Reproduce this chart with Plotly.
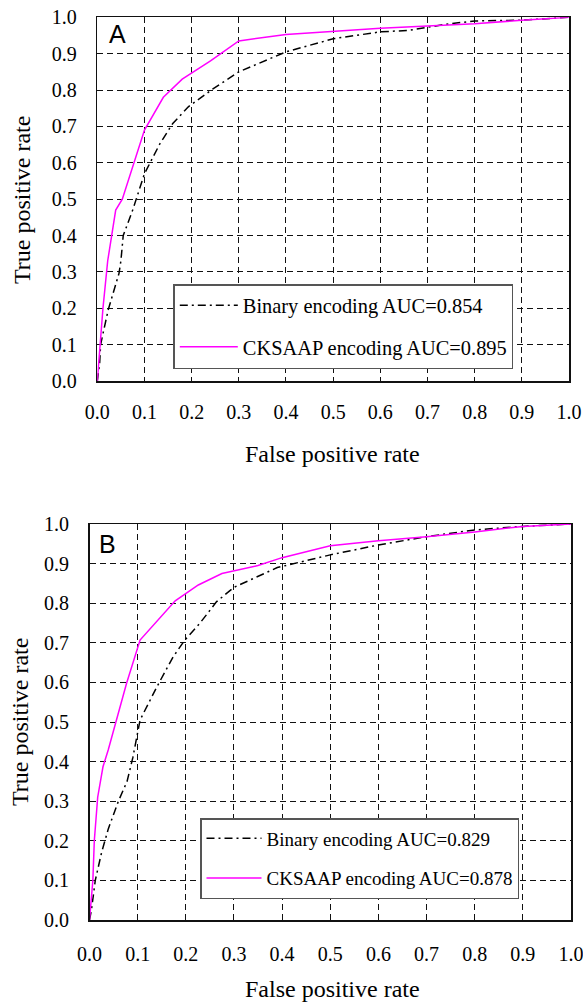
import plotly.graph_objects as go

W, H = 583, 1003

# ---------------- data ----------------
a_binary_fpr = [0, 0.005, 0.007, 0.023, 0.046, 0.05, 0.055, 0.075, 0.1, 0.133, 0.16, 0.193, 0.246, 0.3, 0.4, 0.5, 0.6, 0.66, 0.74, 0.8, 0.9, 1.0]
a_binary_tpr = [0, 0.05, 0.10, 0.195, 0.296, 0.33, 0.40, 0.47, 0.57, 0.653, 0.708, 0.754, 0.804, 0.85, 0.905, 0.941, 0.96, 0.964, 0.981, 0.99, 0.992, 1.0]

a_cksaap_fpr = [0, 0.003, 0.006, 0.012, 0.022, 0.031, 0.039, 0.053, 0.075, 0.1, 0.14, 0.18, 0.24, 0.3, 0.4, 0.5, 0.6, 0.7, 0.8, 0.9, 1.0]
a_cksaap_tpr = [0, 0.05, 0.10, 0.20, 0.33, 0.41, 0.47, 0.50, 0.59, 0.69, 0.78, 0.83, 0.88, 0.935, 0.953, 0.962, 0.97, 0.976, 0.982, 0.992, 1.0]

b_binary_fpr = [0, 0.004, 0.012, 0.025, 0.039, 0.06, 0.078, 0.09, 0.105, 0.14, 0.174, 0.198, 0.229, 0.264, 0.3, 0.39, 0.5, 0.6, 0.7, 0.8, 0.9, 1.0]
b_binary_tpr = [0, 0.025, 0.10, 0.17, 0.23, 0.30, 0.35, 0.41, 0.505, 0.589, 0.665, 0.707, 0.749, 0.804, 0.84, 0.89, 0.922, 0.947, 0.968, 0.985, 0.994, 1.0]

b_cksaap_fpr = [0, 0.004, 0.007, 0.010, 0.017, 0.028, 0.039, 0.056, 0.077, 0.105, 0.14, 0.178, 0.226, 0.275, 0.35, 0.4, 0.5, 0.6, 0.7, 0.8, 0.9, 1.0]
b_cksaap_tpr = [0, 0.05, 0.10, 0.20, 0.31, 0.387, 0.43, 0.505, 0.598, 0.707, 0.755, 0.806, 0.846, 0.875, 0.895, 0.915, 0.945, 0.958, 0.968, 0.98, 0.994, 1.0]

a_names = ["Binary encoding AUC=0.854", "CKSAAP encoding AUC=0.895"]
b_names = ["Binary encoding AUC=0.829", "CKSAAP encoding AUC=0.878"]
tick_vals = [i / 10 for i in range(11)]
tick_text = ["%.1f" % v for v in tick_vals]

# ---------------- style ----------------
SERIF = "Liberation Serif"
SANS = "Liberation Sans"
BIN_STYLE = dict(color="black", width=1.5, dash="8px,4px,2px,4px")
CKS_STYLE = dict(color="#FF00FF", width=1.5)


def px(x):
    return x / W


def py(y):
    return 1 - y / H


fig = go.Figure()

fig.add_trace(go.Scatter(x=a_binary_fpr, y=a_binary_tpr, mode="lines", name=a_names[0],
                         line=BIN_STYLE, xaxis="x", yaxis="y", legend="legend",
                         legendgroup="a1"))
fig.add_trace(go.Scatter(x=a_cksaap_fpr, y=a_cksaap_tpr, mode="lines", name=a_names[1],
                         line=CKS_STYLE, xaxis="x", yaxis="y", legend="legend",
                         legendgroup="a2"))
fig.add_trace(go.Scatter(x=b_binary_fpr, y=b_binary_tpr, mode="lines", name=b_names[0],
                         line=BIN_STYLE, xaxis="x2", yaxis="y2", legend="legend2",
                         legendgroup="b1"))
fig.add_trace(go.Scatter(x=b_cksaap_fpr, y=b_cksaap_tpr, mode="lines", name=b_names[1],
                         line=CKS_STYLE, xaxis="x2", yaxis="y2", legend="legend2",
                         legendgroup="b2"))

axis_common = dict(
    range=[0, 1], tickmode="array", tickvals=tick_vals, ticktext=tick_text,
    showgrid=True, gridcolor="#111111", gridwidth=1, griddash="6px,4px",
    showline=True, linecolor="#111111", linewidth=1.5, mirror=True,
    zeroline=False, ticks="", tickfont=dict(family=SERIF, size=20, color="black"),
    fixedrange=True, automargin=False, ticklabeloverflow="allow",
)

fig.update_layout(
    template="none",
    width=W, height=H, autosize=False,
    margin=dict(l=0, r=0, t=0, b=0, pad=0),
    paper_bgcolor="white", plot_bgcolor="white",
    xaxis=dict(domain=[px(97.3), px(569)], anchor="y", ticklabelstandoff=12, **axis_common),
    yaxis=dict(domain=[py(381), py(17.3)], anchor="x", ticklabelstandoff=15, **axis_common),
    xaxis2=dict(domain=[px(89.5), px(571)], anchor="y2", ticklabelstandoff=15, **axis_common),
    yaxis2=dict(domain=[py(920), py(524)], anchor="x2", ticklabelstandoff=15, **axis_common),
    legend=dict(x=px(173.3), y=py(284), xanchor="left", yanchor="top",
                bgcolor="white", bordercolor="#555555", borderwidth=1.5,
                font=dict(family=SERIF, size=20.4, color="black"),
                traceorder="grouped", tracegroupgap=12, itemwidth=58),
    legend2=dict(x=px(200), y=py(818), xanchor="left", yanchor="top",
                 bgcolor="white", bordercolor="#555555", borderwidth=1.5,
                 font=dict(family=SERIF, size=19, color="black"),
                 traceorder="grouped", tracegroupgap=12, itemwidth=55),
    showlegend=True,
    hovermode=False,
)

annotations = [
    dict(text="A", x=px(117), y=py(34), font=dict(family=SANS, size=25, color="black")),
    dict(text="B", x=px(107.5), y=py(544), font=dict(family=SANS, size=25, color="black")),
    dict(text="False positive rate", x=px(332), y=py(454), font=dict(family=SERIF, size=24, color="black")),
    dict(text="False positive rate", x=px(332), y=py(989), font=dict(family=SERIF, size=24, color="black")),
    dict(text="True positive rate", x=px(22), y=py(200), textangle=-90, font=dict(family=SERIF, size=24, color="black")),
    dict(text="True positive rate", x=px(20), y=py(722), textangle=-90, font=dict(family=SERIF, size=24, color="black")),
]
for a in annotations:
    a.update(xref="paper", yref="paper", showarrow=False, xanchor="center", yanchor="middle")
fig.update_layout(annotations=annotations)

# remove the page's default body margin so the figure fills the window exactly
fig.write_html("out.html",
               config={"displayModeBar": False, "staticPlot": True},
               post_script="document.body.style.margin='0';document.body.style.overflow='hidden';")
